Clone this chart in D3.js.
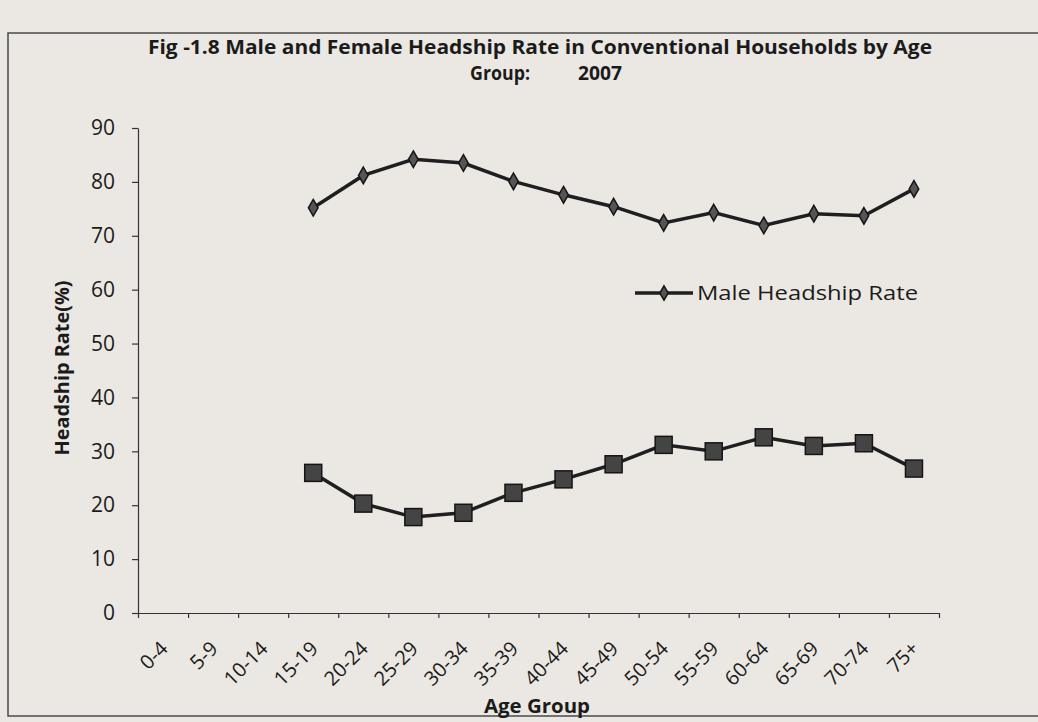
<!DOCTYPE html>
<html>
<head>
<meta charset="utf-8">
<script src="https://cdn.jsdelivr.net/npm/d3@7"></script>
<style>
  html, body { margin: 0; padding: 0; background: #ebe8e3; }
  svg { display: block; }
  text { font-family: "Open Sans", Lato, sans-serif; fill: #1b1b1b; }
</style>
</head>
<body>
<svg id="chart" width="1038" height="722"></svg>
<script>
// ---- data ----
const categories = ["0-4","5-9","10-14","15-19","20-24","25-29","30-34","35-39","40-44","45-49","50-54","55-59","60-64","65-69","70-74","75+"];
const maleRate   = [null, null, null, 75.2, 81.2, 84.2, 83.5, 80.1, 77.6, 75.4, 72.4, 74.3, 71.9, 74.1, 73.7, 78.7];
const femaleRate = [null, null, null, 26.0, 20.3, 17.8, 18.6, 22.3, 24.8, 27.6, 31.2, 30.0, 32.6, 31.0, 31.5, 26.8];
const yTicks = [0, 10, 20, 30, 40, 50, 60, 70, 80, 90];
const titleLine1 = "Fig -1.8 Male and Female Headship Rate in Conventional Households by Age";
const titleLine2a = "Group:";
const titleLine2b = "2007";
const yLabel = "Headship Rate(%)";
const xLabel = "Age Group";
const legendMale = "Male Headship Rate";

const svg = d3.select("#chart");

// frame
svg.append("rect").attr("x", 8).attr("y", 33).attr("width", 1100).attr("height", 683)
  .attr("fill", "none").attr("stroke", "#4a4a4a").attr("stroke-width", 1.5);

const x = d3.scaleBand().domain(categories).range([138, 939]);
const xb = d3.scaleLinear().domain([0, categories.length]).range([138, 939]);
const y = d3.scaleLinear().domain([0, 90]).range([613, 128]);

// y axis
const ya = svg.append("g").attr("transform", "translate(138,0)")
  .call(d3.axisLeft(y).tickValues(yTicks).tickSizeInner(6).tickSizeOuter(0).tickPadding(17));
ya.select(".domain").attr("stroke", "#333").attr("stroke-width", 1.2);
ya.selectAll(".tick line").attr("stroke", "#333").attr("stroke-width", 1.2);
ya.selectAll(".tick text").style("font-size", "21px").style("font-family", "'Open Sans', sans-serif").attr("fill", "#1b1b1b");

// x axis (ticks at category boundaries)
const xa = svg.append("g").attr("transform", "translate(0,613)")
  .call(d3.axisBottom(xb).tickValues(d3.range(categories.length + 1)).tickFormat("").tickSizeInner(5).tickSizeOuter(0));
xa.select(".domain").attr("stroke", "#333").attr("stroke-width", 1.2);
xa.selectAll(".tick line").attr("stroke", "#333").attr("stroke-width", 1.2);

// x tick labels rotated
svg.append("g").selectAll("text").data(categories).join("text")
  .attr("transform", d => `translate(${x(d) + x.bandwidth() / 2 + 6},${650}) rotate(-45)`)
  .attr("text-anchor", "end")
  .style("font-size", "20px")
  .text(d => d);

// titles
svg.append("text").attr("x", 540).attr("y", 54).attr("text-anchor", "middle")
  .style("font-size", "19.5px").style("font-weight", "bold")
  .attr("textLength", 784).attr("lengthAdjust", "spacingAndGlyphs")
  .text(titleLine1);
svg.append("text").attr("x", 470).attr("y", 80)
  .style("font-size", "19.5px").style("font-weight", "bold")
  .attr("textLength", 60).attr("lengthAdjust", "spacingAndGlyphs").text(titleLine2a);
svg.append("text").attr("x", 578).attr("y", 80)
  .style("font-size", "19.5px").style("font-weight", "bold")
  .attr("textLength", 44).attr("lengthAdjust", "spacingAndGlyphs").text(titleLine2b);

// axis labels
svg.append("text").attr("transform", "translate(69,368) rotate(-90)").attr("text-anchor", "middle")
  .style("font-size", "19px").style("font-weight", "bold")
  .attr("textLength", 175).attr("lengthAdjust", "spacingAndGlyphs").text(yLabel);
svg.append("text").attr("x", 537).attr("y", 713).attr("text-anchor", "middle")
  .style("font-size", "19.5px").style("font-weight", "bold")
  .attr("textLength", 106).attr("lengthAdjust", "spacingAndGlyphs").text(xLabel);

const cx = (d, i) => x(categories[i]) + x.bandwidth() / 2;

// female series
const femaleData = femaleRate.map((v, i) => ({ i, v })).filter(d => d.v !== null);
svg.append("path").datum(femaleData)
  .attr("fill", "none").attr("stroke", "#1f1f1f").attr("stroke-width", 3.5)
  .attr("d", d3.line().x(d => cx(null, d.i)).y(d => y(d.v)));
svg.append("g").selectAll("rect").data(femaleData).join("rect")
  .attr("x", d => cx(null, d.i) - 8.5).attr("y", d => y(d.v) - 8.5)
  .attr("width", 17).attr("height", 17)
  .attr("fill", "#444").attr("stroke", "#151515").attr("stroke-width", 1.5);

// male series
const maleData = maleRate.map((v, i) => ({ i, v })).filter(d => d.v !== null);
svg.append("path").datum(maleData)
  .attr("fill", "none").attr("stroke", "#1f1f1f").attr("stroke-width", 3.5)
  .attr("d", d3.line().x(d => cx(null, d.i)).y(d => y(d.v)));
const diamond = d3.symbol().type(d3.symbolDiamond).size(80);
svg.append("g").selectAll("path").data(maleData).join("path")
  .attr("transform", d => `translate(${cx(null, d.i)},${y(d.v)})`)
  .attr("d", diamond)
  .attr("fill", "#555").attr("stroke", "#151515").attr("stroke-width", 1.5);

// legend
const lg = svg.append("g").attr("transform", "translate(635,293)");
lg.append("line").attr("x1", 0).attr("x2", 58).attr("y1", 0).attr("y2", 0)
  .attr("stroke", "#1f1f1f").attr("stroke-width", 3.5);
lg.append("path").attr("transform", "translate(29,0)")
  .attr("d", d3.symbol().type(d3.symbolDiamond).size(60))
  .attr("fill", "#555").attr("stroke", "#151515").attr("stroke-width", 1.5);
lg.append("text").attr("x", 62).attr("y", 7).style("font-size", "20px")
  .attr("textLength", 221).attr("lengthAdjust", "spacingAndGlyphs")
  .text(legendMale);
</script>
</body>
</html>
